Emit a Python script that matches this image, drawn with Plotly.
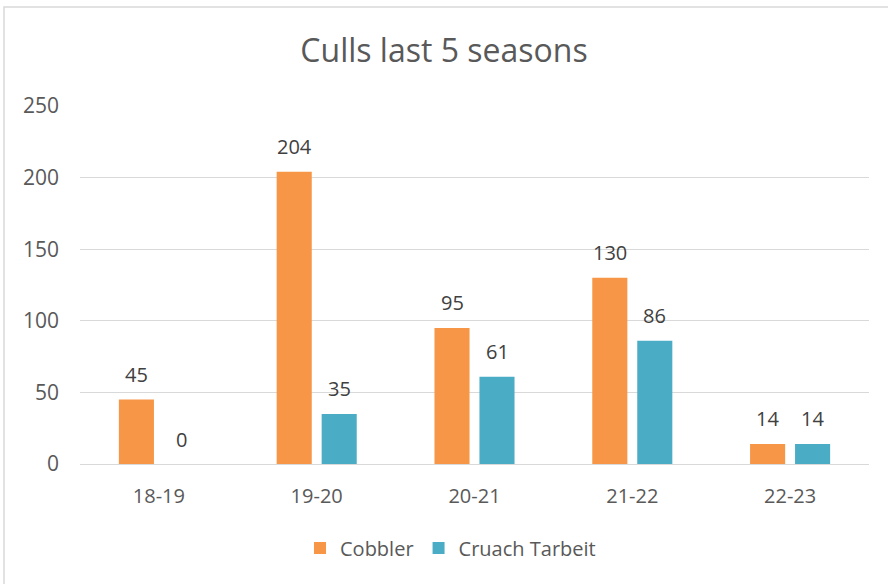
import plotly.graph_objects as go

seasons = ["18-19", "19-20", "20-21", "21-22", "22-23"]
cobbler = [45, 204, 95, 130, 14]
cruach = [0, 35, 61, 86, 14]
series_names = ["Cobbler", "Cruach Tarbeit"]
colors = ["#F79646", "#4BACC6"]
y_ticks = [0, 50, 100, 150, 200, 250]

FONT = "Open Sans"
W, H = 888, 584
L, R, T, B = 80, 19, 106, 120
PW, PH = W - L - R, H - T - B

fig = go.Figure()
for name, vals, col in zip(series_names, [cobbler, cruach], colors):
    fig.add_trace(go.Bar(x=seasons, y=vals, name=name, marker=dict(color=col, line=dict(width=0))))

annotations = []
for vals, shift in zip([cobbler, cruach], [-22.5, 22.5]):
    for s, v in zip(seasons, vals):
        annotations.append(dict(x=s, y=v, xref="x", yref="y", text=str(v), showarrow=False,
                                xshift=shift, yshift=25, yanchor="middle",
                                font=dict(family=FONT, size=20, color="#404040")))

fig.update_layout(
    width=W, height=H,
    margin=dict(l=L, r=R, t=T, b=B),
    paper_bgcolor="white", plot_bgcolor="white",
    barmode="group", bargap=0.43, bargroupgap=0.22,
    title=dict(text="Culls last 5 seasons", x=0.5, xanchor="center", y=1 - 51 / H, yanchor="middle",
               font=dict(family=FONT, size=32, color="#595959")),
    font=dict(family=FONT, size=20, color="#595959"),
    xaxis=dict(showgrid=False, showline=False, zeroline=False, ticks="", ticklabelstandoff=18,
               tickfont=dict(family=FONT, size=20, color="#595959")),
    yaxis=dict(range=[0, 250], tickvals=y_ticks, showgrid=True, gridcolor="#D9D9D9", gridwidth=1,
               zeroline=True, zerolinecolor="#D9D9D9", zerolinewidth=1, showline=False, ticks="",
               ticklabelstandoff=20, tickfont=dict(family=FONT, size=21, color="#595959")),
    legend=dict(orientation="h", x=0.5 - 24 / PW, xanchor="center", y=-84 / PH, yanchor="middle",
                font=dict(family=FONT, size=20, color="#595959"), itemwidth=30, traceorder="normal"),
    annotations=annotations,
    shapes=[dict(type="rect", xref="paper", yref="paper",
                 x0=(4 - L) / PW, x1=(W + 10 - L) / PW,
                 y0=-(B + 10) / PH, y1=1 + (T - 7) / PH,
                 line=dict(color="#D9D9D9", width=1.5), fillcolor="rgba(0,0,0,0)", layer="below")],
)

fig.write_html("out.html", config={"displayModeBar": False},
               post_script="document.body.style.margin='0';document.body.style.overflow='hidden';")
